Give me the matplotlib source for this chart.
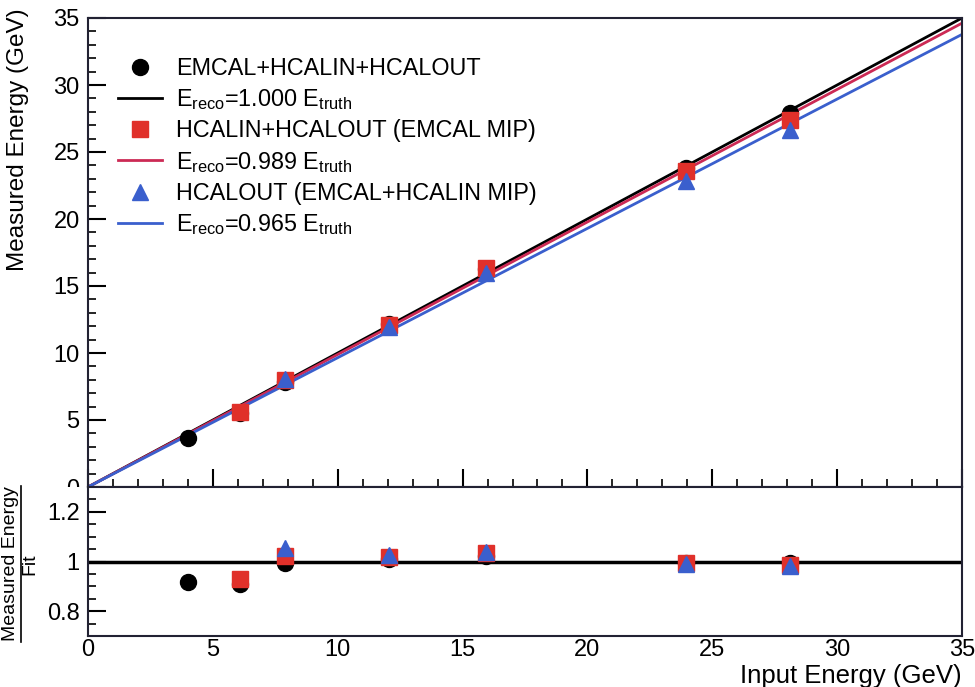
import matplotlib
matplotlib.use("Agg")
import matplotlib.pyplot as plt
import numpy as np
from matplotlib.lines import Line2D
from matplotlib.ticker import MultipleLocator, FuncFormatter
from matplotlib.transforms import Bbox, TransformedBbox

plt.rcParams['font.family'] = ['Liberation Sans', 'DejaVu Sans']
plt.rcParams['mathtext.fontset'] = 'custom'
plt.rcParams['mathtext.rm'] = 'Liberation Sans'
plt.rcParams['mathtext.it'] = 'Liberation Sans'

# ---- data ----
x_all = [4.0, 6.1, 7.9, 12.05, 15.95, 23.95, 28.1]
e_all = [3.67, 5.54, 7.84, 12.15, 16.30, 23.80, 27.90]
slope_all = 1.000

x_hcal = [6.1, 7.9, 12.05, 15.95, 23.95, 28.1]
e_hcal = [5.60, 7.99, 12.11, 16.34, 23.59, 27.37]
slope_hcal = 0.989

x_out = [7.9, 12.05, 15.95, 23.95, 28.1]
e_out = [8.03, 11.93, 15.95, 22.86, 26.63]
slope_out = 0.965

labels = ["EMCAL+HCALIN+HCALOUT", "HCALIN+HCALOUT (EMCAL MIP)", "HCALOUT (EMCAL+HCALIN MIP)"]

c_black = "#000000"
c_red = "#e0302a"
c_redline = "#cc2a55"
c_blue = "#3a5fcd"

W, H = 975, 687
fig = plt.figure(figsize=(W / 100, H / 100), dpi=100)

def fx(px):
    return px / W

def fy(py):
    return 1 - py / H

L, R = 88, 962
top_main, split, bot = 18, 487, 636
ax = fig.add_axes([fx(L), fy(split), fx(R) - fx(L), fy(top_main) - fy(split)])
axr = fig.add_axes([fx(L), fy(bot), fx(R) - fx(L), fy(split) - fy(bot)])

xx = np.array([0.0, 35.0])
ax.plot(xx, slope_all * xx, color=c_black, lw=2.0, zorder=2)
ax.plot(xx, slope_hcal * xx, color=c_redline, lw=2.0, zorder=2)
ax.plot(xx, slope_out * xx, color=c_blue, lw=2.0, zorder=2)

ms = 11.5
ax.plot(x_all, e_all, 'o', color=c_black, ms=ms, zorder=3)
ax.plot(x_hcal, e_hcal, 's', color=c_red, ms=ms, zorder=4)
ax.plot(x_out, e_out, '^', color=c_blue, ms=ms, zorder=5)

ax.set_xlim(0, 35)
ax.set_ylim(0, 35)

for a in (ax, axr):
    for s in a.spines.values():
        s.set_linewidth(1.5)
        s.set_color('#222233')

ax.xaxis.set_major_locator(MultipleLocator(5))
ax.xaxis.set_minor_locator(MultipleLocator(1))
ax.yaxis.set_major_locator(MultipleLocator(5))
ax.yaxis.set_minor_locator(MultipleLocator(1))
ax.tick_params(axis='both', which='both', direction='in', top=False, right=False, labelsize=17)
ax.tick_params(axis='both', which='major', length=13, width=1.5)
ax.tick_params(axis='both', which='minor', length=6, width=1.2)
ax.tick_params(axis='x', labelbottom=False)
ax.tick_params(axis='y', pad=6)

# clip the main-panel y tick labels at the panel split (the "0" is cut in half)
clip = TransformedBbox(Bbox([[0, fy(split)], [fx(L), 1]]), fig.transFigure)
for tk in ax.yaxis.get_major_ticks():
    tk.label1.set_clip_box(clip)
    tk.label1.set_clip_on(True)

# legend
h = [
    Line2D([], [], ls='none', marker='o', color=c_black, ms=ms),
    Line2D([], [], color=c_black, lw=2.0),
    Line2D([], [], ls='none', marker='s', color=c_red, ms=ms),
    Line2D([], [], color=c_redline, lw=2.0),
    Line2D([], [], ls='none', marker='^', color=c_blue, ms=ms),
    Line2D([], [], color=c_blue, lw=2.0),
]
t = [
    labels[0],
    r'E$_{\mathrm{reco}}$=%.3f E$_{\mathrm{truth}}$' % slope_all,
    labels[1],
    r'E$_{\mathrm{reco}}$=%.3f E$_{\mathrm{truth}}$' % slope_hcal,
    labels[2],
    r'E$_{\mathrm{reco}}$=%.3f E$_{\mathrm{truth}}$' % slope_out,
]
leg = ax.legend(h, t, loc='upper left', bbox_to_anchor=((118 - L) / (R - L), 1 - (57 - top_main) / (split - top_main)),
                frameon=False, fontsize=16.8, handlelength=1.9, handletextpad=0.6,
                borderpad=0, borderaxespad=0, labelspacing=0.31)

# ratio panel
axr.axhline(1.0, color='black', lw=2.5, zorder=2)
r_all = np.array(e_all) / (slope_all * np.array(x_all))
r_hcal = np.array(e_hcal) / (slope_hcal * np.array(x_hcal))
r_out = np.array(e_out) / (slope_out * np.array(x_out))
axr.plot(x_all, r_all, 'o', color=c_black, ms=ms, zorder=3)
axr.plot(x_hcal, r_hcal, 's', color=c_red, ms=ms, zorder=4)
axr.plot(x_out, r_out, '^', color=c_blue, ms=ms, zorder=5)
axr.set_xlim(0, 35)
axr.set_ylim(0.7, 1.3)
axr.xaxis.set_major_locator(MultipleLocator(5))
axr.yaxis.set_major_locator(MultipleLocator(0.2))
axr.yaxis.set_minor_locator(MultipleLocator(0.05))
axr.yaxis.set_major_formatter(FuncFormatter(lambda v, p: '%g' % round(v, 2)))
axr.tick_params(axis='both', which='both', direction='in', top=False, right=False, labelsize=17)
axr.tick_params(axis='y', which='major', length=13, width=1.5, pad=6)
axr.tick_params(axis='y', which='minor', length=6, width=1.2)
axr.tick_params(axis='x', which='major', length=0, pad=2)

# axis titles
fig.text(fx(18), fy(8), 'Measured Energy (GeV)', rotation=90, ha='center', va='top', fontsize=17.5)
fig.text(fx(962), fy(683), 'Input Energy (GeV)', ha='right', va='baseline', fontsize=18.5)

yc = fy(564)
fig.text(fx(11), yc, 'Measured Energy', rotation=90, ha='center', va='center', fontsize=14)
fig.text(fx(30), yc, 'Fit', rotation=90, ha='center', va='center', fontsize=14)
fig.add_artist(Line2D([fx(20.5), fx(20.5)], [fy(642), fy(486)], color='black', lw=1.2, transform=fig.transFigure))

fig.savefig('out.png', dpi=100)
